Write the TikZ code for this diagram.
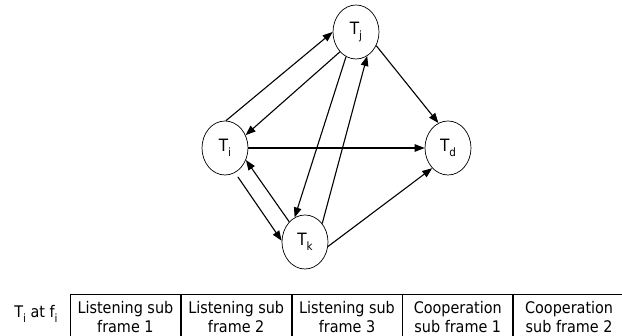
\documentclass[tikz,border=0pt]{standalone}
\usepackage{fontspec}
\setmainfont{DejaVu Sans Condensed}
\usetikzlibrary{arrows.meta,shapes.geometric}
\newcommand\lowsub[1]{\raisebox{-0.55ex}{\fontsize{11.5}{12}\selectfont #1}}
\begin{document}
\begin{tikzpicture}[x=1pt,y=1pt,
  tnode/.style={draw,line width=0.7pt,ellipse,minimum width=46pt,minimum height=54pt,inner sep=0pt,font=\fontsize{17}{19}\selectfont},
  arr/.style={line width=1.1pt,-{Triangle[length=10pt,width=7.5pt]}},
  cell/.style={draw,line width=0.8pt,minimum width=110pt,minimum height=46pt,inner sep=0pt,anchor=north west,align=center,font=\fontsize{16}{19}\selectfont},
  lbl/.style={font=\fontsize{16}{19}\selectfont,inner sep=0pt}]
\useasboundingbox (0,0) rectangle (622,336);
\clip (0,0) rectangle (622,336);
\node[tnode] (Tj) at (356,304) {T\lowsub{j}};
\node[tnode] (Ti) at (225,188) {T\lowsub{i}};
\node[tnode] (Td) at (448,188) {T\lowsub{d}};
\node[tnode] (Tk) at (305,94) {T\lowsub{k}};
\draw[arr] (Ti.88) -- (Tj.180);
\draw[arr] (Tj.231) -- (Ti.32);
\draw[arr] (Ti.0) -- (Td.180);
\draw[arr] (Tj.326) -- (Td.111);
\draw[arr] (Tj.248) -- (Tk.113);
\draw[arr] (Tk.47) -- (Tj.295);
\draw[arr] (Tk.128) -- (Ti.330);
\draw[arr,shorten <=5pt] (Ti.292) -- (Tk.177);
\draw[arr] (Tk.349) -- (Td.232);
\node[lbl] (lab) at (36,22) {T\lowsub{i} at f\lowsub{i}};
\node[cell] (c1) at (70,42) {Listening sub\\frame 1};
\node[cell] (c2) at (c1.north east) {Listening sub\\frame 2};
\node[cell] (c3) at (c2.north east) {Listening sub\\frame 3};
\node[cell] (c4) at (c3.north east) {Cooperation\\sub frame 1};
\node[cell,minimum width=111pt] (c5) at (c4.north east) {Cooperation\\sub frame 2};
\end{tikzpicture}
\end{document}
